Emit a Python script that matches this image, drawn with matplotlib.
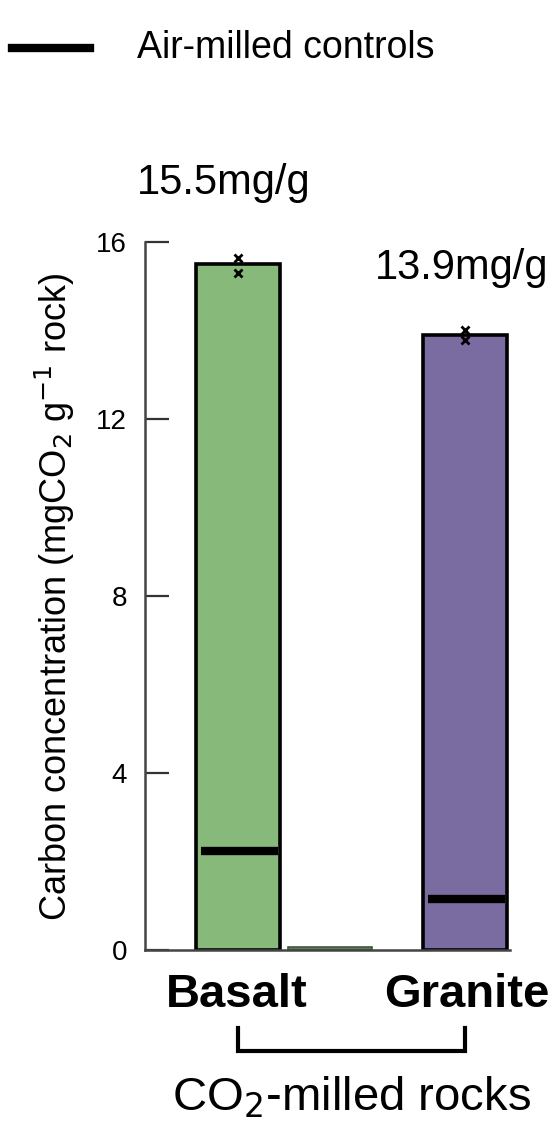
import matplotlib
matplotlib.use('Agg')
import matplotlib.pyplot as plt
from matplotlib.lines import Line2D
from matplotlib.transforms import blended_transform_factory

plt.rcParams['font.family'] = ['Liberation Sans', 'DejaVu Sans']

# dados
rochas = ['Basalt', 'Granite']
pos_rochas = [1.107, 3.81]
carbono = [15.5, 13.9]
controles = [2.24, 1.15]
replicas = [[15.64, 15.30], [14.01, 13.79]]
rotulos_valor = ['15.5mg/g', '13.9mg/g']
pos_meio = [2.20]
valor_meio = [0.06]
cores = ['#86b97a', '#7a6ba1']

W, H = 556, 1139
fig = plt.figure(figsize=(W / 100, H / 100), dpi=100, facecolor='white')


def px(x, y):
    return x / W, 1 - y / H


ax = fig.add_axes([145 / W, 1 - 950 / H, 365 / W, 708 / H])

largura = 1.0
ax.bar(pos_rochas, carbono, width=largura, color=cores,
       edgecolor='black', linewidth=2.6, zorder=2)
ax.bar(pos_meio, valor_meio, width=largura, color='#5c7d55',
       edgecolor='#3f5a3a', linewidth=1.2, zorder=2)

for x, c in zip(pos_rochas, controles):
    ax.hlines(c, x - largura / 2 + 0.06, x + largura / 2 - 0.02,
              color='black', linewidth=6, zorder=3)

for x, reps in zip(pos_rochas, replicas):
    ax.plot([x] * len(reps), reps, linestyle='none', marker='x',
            markersize=6, markeredgewidth=2, color='black', zorder=4,
            clip_on=False)

ax.set_xlim(0, 4.345)
ax.set_ylim(0, 16)
ax.set_yticks([0, 4, 8, 12, 16])
ax.set_xticks([])
ax.tick_params(axis='y', direction='in', length=17, width=1.6,
               color='#333333', pad=13, labelsize=20)
for lado in ['top', 'right']:
    ax.spines[lado].set_visible(False)
for lado in ['left', 'bottom']:
    ax.spines[lado].set_color('#444444')
    ax.spines[lado].set_linewidth(1.8)

# rótulos de valor acima das barras
fig.text(*px(137, 183), rotulos_valor[0], ha='left', va='center', fontsize=30)
fig.text(*px(375, 268), rotulos_valor[1], ha='left', va='center', fontsize=30)

# eixo y
fig.text(*px(55, 597),
         'Carbon concentration (mgCO$_2$ g$^{-1}$ rock)',
         rotation=90, ha='center', va='center', fontsize=26)

# nomes das rochas
trans = blended_transform_factory(ax.transData, fig.transFigure)
fig.text(*px(237, 995), rochas[0], ha='center', va='center',
         fontsize=34, fontweight='bold')
fig.text(*px(467, 995), rochas[1], ha='center', va='center',
         fontsize=34, fontweight='bold')

# colchete agrupando as rochas moídas com CO2
yb_top = 1 - 1028 / H
yb_bot = 1 - 1051 / H
colchete = Line2D([pos_rochas[0], pos_rochas[0], pos_rochas[1], pos_rochas[1]],
                  [yb_top, yb_bot, yb_bot, yb_top],
                  transform=trans, color='black', linewidth=3,
                  solid_joinstyle='miter')
fig.add_artist(colchete)
fig.text(*px(352, 1098), 'CO$_2$-milled rocks', ha='center', va='center',
         fontsize=34)

# legenda
fig.add_artist(Line2D([12 / W, 90 / W], [1 - 48 / H, 1 - 48 / H],
                      transform=fig.transFigure, color='black', linewidth=6))
fig.text(*px(137, 48), 'Air-milled controls', ha='left', va='center',
         fontsize=27)

fig.savefig('out.png', dpi=100, facecolor='white')
plt.close(fig)
